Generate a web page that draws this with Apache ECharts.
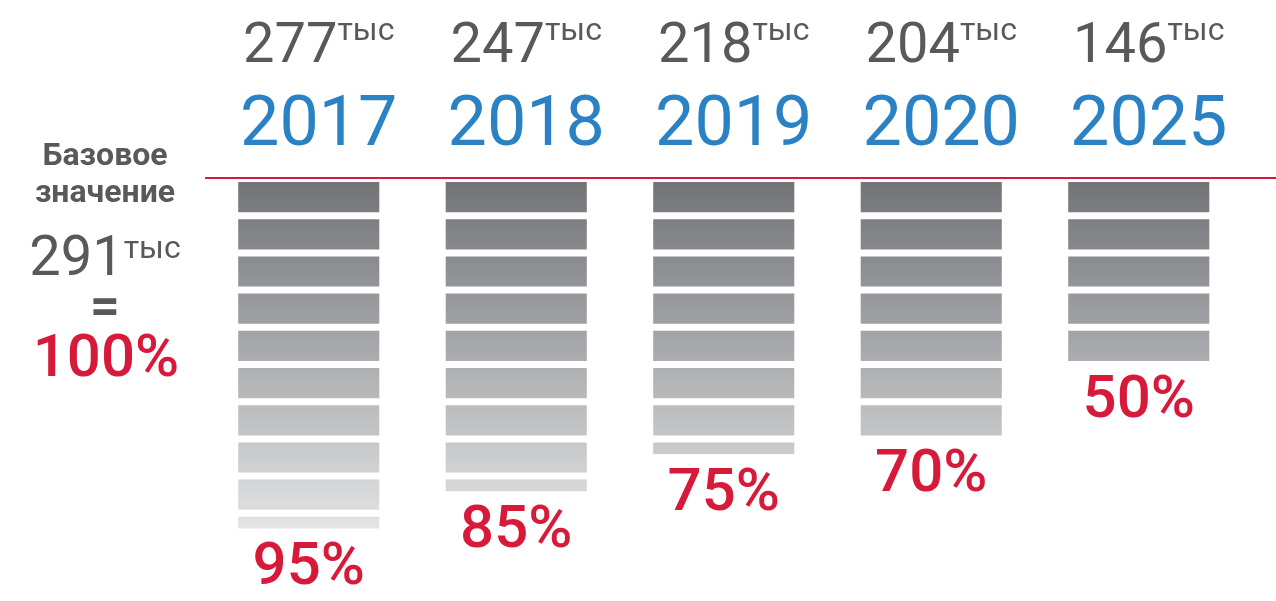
<!DOCTYPE html>
<html>
<head>
<meta charset="utf-8">
<script src="https://cdn.jsdelivr.net/npm/echarts@6/dist/echarts.min.js"></script>
<style>
  html, body { margin: 0; padding: 0; background: #fff; }
  #main { width: 1276px; height: 601px; }
</style>
</head>
<body>
<div id="main"></div>
<script>
// данные
var years = ['2017', '2018', '2019', '2020', '2025'];
var totals = [277, 247, 218, 204, 146];      // тыс
var percents = [95, 85, 75, 70, 50];         // % от базового значения
var baseTotal = 291;
var basePercent = 100;
var step = 10;                               // один "кирпич" = 10%

var GRAY = '#58595b';
var BLUE = '#2a82c5';
var RED = '#d71a3a';
var GAP = 7;

// цвет сегмента по его положению в столбце (0..1)
function shade(t) {
    var a = [0x72, 0x73, 0x77], b = [0xeb, 0xec, 0xed];
    var c = a.map(function (v, i) { return Math.round(v + (b[i] - v) * t); });
    return 'rgb(' + c.join(',') + ')';
}

// разбиваем каждый столбец на сегменты по 10%
var segments = [];
percents.forEach(function (p, i) {
    for (var s = 0; s < p; s += step) {
        segments.push([i, s, Math.min(p, s + step)]);
    }
});
var labelData = percents.map(function (p, i) { return [i, p]; });

var myChart = echarts.init(document.getElementById('main'));

var option = {
    animation: false,
    grid: { left: 205, right: 33.5, top: 182, bottom: 47 },
    xAxis: {
        type: 'category',
        data: years,
        position: 'top',
        axisLine: { show: false },
        axisTick: { show: false },
        axisLabel: {
            interval: 0,
            margin: 19,
            padding: [0, 0, 0, 20],
            formatter: function (val, idx) {
                return '{n|' + totals[idx] + '}{s|тыс}\n{y|' + val + '}';
            },
            rich: {
                n: { fontFamily: 'Roboto', fontSize: 56, color: GRAY, lineHeight: 86 },
                s: { fontFamily: 'Roboto', fontSize: 32, color: GRAY, verticalAlign: 'top', padding: [11, 0, 0, 0] },
                y: { fontFamily: 'Roboto', fontSize: 70, color: BLUE, lineHeight: 72 }
            }
        }
    },
    yAxis: {
        type: 'value',
        min: 0,
        max: 100,
        inverse: true,
        show: false
    },
    graphic: [
        { type: 'line', shape: { x1: 205, y1: 178, x2: 1276, y2: 178 }, style: { stroke: RED, lineWidth: 2 } },
        { type: 'text', x: 105, y: 157, style: { text: 'Базовое', fill: GRAY, font: 'bold 32px Roboto', align: 'center', verticalAlign: 'middle' } },
        { type: 'text', x: 105, y: 194, style: { text: 'значение', fill: GRAY, font: 'bold 32px Roboto', align: 'center', verticalAlign: 'middle' } },
        { type: 'text', x: 105, y: 261, style: {
            text: '{n|' + baseTotal + '}{s|тыс}', align: 'center', verticalAlign: 'middle',
            rich: {
                n: { fontFamily: 'Roboto', fontSize: 56, fill: GRAY, lineHeight: 60 },
                s: { fontFamily: 'Roboto', fontSize: 32, fill: GRAY, verticalAlign: 'top', padding: [3, 0, 0, 0] }
            }
        } },
        { type: 'text', x: 105, y: 310, style: { text: '=', fill: GRAY, font: 'bold 52px Roboto', align: 'center', verticalAlign: 'middle' } },
        { type: 'text', x: 106, y: 361, style: { text: basePercent + '%', fill: RED, font: '500 60px Roboto', align: 'center', verticalAlign: 'middle' } }
    ],
    series: [{
        type: 'custom',
        data: segments,
        encode: { x: 0, y: [1, 2] },
        renderItem: function (params, api) {
            var i = api.value(0);
            var s0 = api.value(1), s1 = api.value(2);
            var p0 = api.coord([i, s0]);
            var p1 = api.coord([i, s1]);
            var w = api.size([1, 0])[0] * 0.68;
            return {
                type: 'rect',
                shape: { x: p0[0] - w / 2, y: p0[1], width: w, height: p1[1] - p0[1] - GAP },
                style: {
                    fill: new echarts.graphic.LinearGradient(0, 0, 0, 1, [
                        { offset: 0, color: shade(s0 / 100) },
                        { offset: 1, color: shade((s1 - 2) / 100) }
                    ])
                }
            };
        }
    }, {
        type: 'custom',
        data: labelData,
        renderItem: function (params, api) {
            var pt = api.coord([api.value(0), api.value(1)]);
            return {
                type: 'text',
                x: pt[0],
                y: pt[1] + 34,
                style: {
                    text: api.value(1) + '%',
                    fill: RED,
                    font: '500 60px Roboto',
                    align: 'center',
                    verticalAlign: 'middle'
                }
            };
        }
    }]
};

myChart.setOption(option);
</script>
</body>
</html>
